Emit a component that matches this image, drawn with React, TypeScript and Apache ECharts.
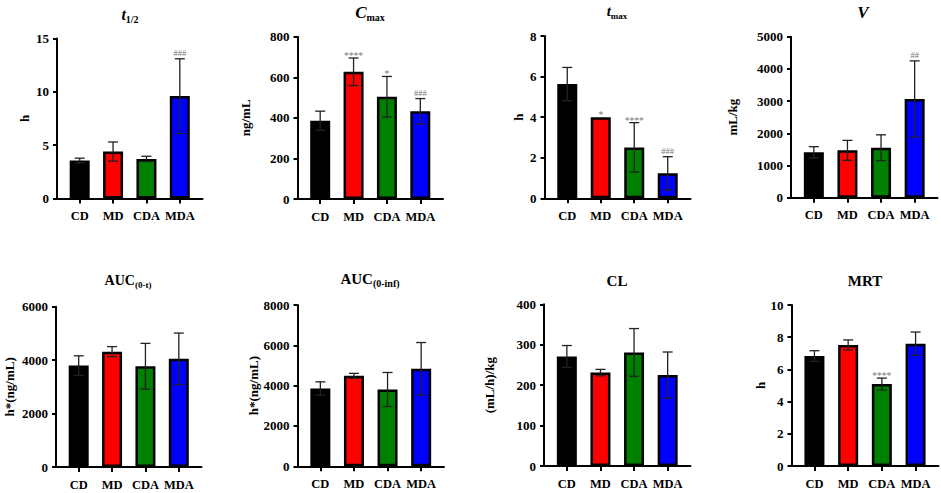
import React, { useEffect, useRef } from "react";
import * as echarts from "echarts";

const categories = ["CD", "MD", "CDA", "MDA"];
const barColors = ["#000000", "#ff0000", "#008000", "#0000ff"];

// t1/2 (h)
const t12Mean = [3.56, 4.4, 3.71, 9.6];
const t12Sd = [0.22, 0.9, 0.25, 3.5];
const t12Marks = ["", "", "", "###"];
// Cmax (ng/mL)
const cmaxMean = [386, 627, 504, 432];
const cmaxSd = [47, 68, 100, 63];
const cmaxMarks = ["", "****", "*", "###"];
// tmax (h)
const tmaxMean = [5.63, 3.99, 2.51, 1.23];
const tmaxSd = [0.82, 0, 1.22, 0.82];
const tmaxMarks = ["", "*", "****", "###"];
// V (mL/kg)
const vMean = [1408, 1470, 1553, 3064];
const vSd = [176, 310, 400, 1185];
const vMarks = ["", "", "", "##"];
// AUC(0-t)
const auctMean = [3795, 4318, 3770, 4050];
const auctSd = [367, 188, 857, 963];
const auctMarks = ["", "", "", ""];
// AUC(0-inf)
const aucinfMean = [3859, 4485, 3809, 4839];
const aucinfSd = [330, 125, 844, 1300];
const aucinfMarks = ["", "", "", ""];
// CL
const clMean = [271, 231, 281, 225];
const clSd = [27, 8, 59, 57];
const clMarks = ["", "", "", ""];
// MRT
const mrtMean = [6.83, 7.52, 5.09, 7.6];
const mrtSd = [0.33, 0.31, 0.37, 0.72];
const mrtMarks = ["", "", "****", ""];

// y axis scales
const yMaxes = [15, 800, 8, 5000, 6000, 8000, 400, 10];
const yIntervals = [5, 200, 2, 1000, 2000, 2000, 100, 2];
const yNames = ["h", "ng/mL", "h", "mL/kg", "h*(ng/mL)", "h*(ng/mL)", "(mL/h)/kg", "h"];

const FONT = '"Liberation Serif", "Times New Roman", serif';

const dataSets = [
  { mean: t12Mean, sd: t12Sd, marks: t12Marks },
  { mean: cmaxMean, sd: cmaxSd, marks: cmaxMarks },
  { mean: tmaxMean, sd: tmaxSd, marks: tmaxMarks },
  { mean: vMean, sd: vSd, marks: vMarks },
  { mean: auctMean, sd: auctSd, marks: auctMarks },
  { mean: aucinfMean, sd: aucinfSd, marks: aucinfMarks },
  { mean: clMean, sd: clSd, marks: clMarks },
  { mean: mrtMean, sd: mrtSd, marks: mrtMarks },
];

// layout (pixels): axis extents
const layouts = [
  { left: 57, right: 202.5, top: 38.5, bottom: 198.5, nameGap: 26 },
  { left: 297.5, right: 443, top: 36.7, bottom: 199, nameGap: 46 },
  { left: 544.5, right: 690.5, top: 36, bottom: 198.3, nameGap: 20 },
  { left: 791, right: 937.5, top: 36.7, bottom: 197.7, nameGap: 52 },
  { left: 56, right: 201.5, top: 306.7, bottom: 467, nameGap: 40 },
  { left: 297.5, right: 444, top: 305, bottom: 466.3, nameGap: 37 },
  { left: 544, right: 690.5, top: 304.3, bottom: 466, nameGap: 48 },
  { left: 791.5, right: 938.5, top: 305, bottom: 466, nameGap: 25 },
];

const titles = [
  { text: "{it|t}{sub|1/2}", x: 130, y: 14, main: 16, sub: 10, italic: true },
  { text: "{it|C}{sub|max}", x: 370, y: 12, main: 17, sub: 10, italic: true },
  { text: "{it|t}{sub|max}", x: 617, y: 11, main: 15, sub: 9, italic: true },
  { text: "{it|V}", x: 863, y: 12, main: 17, sub: 10, italic: true },
  { text: "{it|AUC}{sub|(0-t)}", x: 128, y: 280, main: 14, sub: 9, italic: false },
  { text: "{it|AUC}{sub|(0-inf)}", x: 370, y: 279, main: 15, sub: 10, italic: false },
  { text: "{it|CL}", x: 617, y: 281, main: 15, sub: 10, italic: false },
  { text: "{it|MRT}", x: 865, y: 281, main: 15, sub: 10, italic: false },
];

const X_MIN = -0.68;
const X_MAX = 3.68;

function buildOption() {
  const grid: any[] = [];
  const xAxis: any[] = [];
  const yAxis: any[] = [];
  const series: any[] = [];
  const axisLineStyle = { color: "#000", width: 2 };

  dataSets.forEach((ds, i) => {
    const L = layouts[i];
    grid.push({
      left: L.left,
      top: L.top,
      width: L.right - L.left,
      height: L.bottom - L.top,
      containLabel: false,
    });
    xAxis.push({
      gridIndex: i,
      type: "value",
      min: X_MIN,
      max: X_MAX,
      axisLine: { show: true, onZero: false, lineStyle: axisLineStyle },
      axisTick: {
        show: true,
        customValues: [0, 1, 2, 3],
        length: 5,
        lineStyle: { color: "#000", width: 2 },
      },
      axisLabel: {
        customValues: [0, 1, 2, 3],
        formatter: (v: number) => categories[Math.round(v)] || "",
        margin: 11,
        color: "#000",
        fontFamily: FONT,
        fontWeight: "bold",
        fontSize: 12.5,
      },
      splitLine: { show: false },
    });
    yAxis.push({
      gridIndex: i,
      type: "value",
      min: 0,
      max: yMaxes[i],
      interval: yIntervals[i],
      name: yNames[i],
      nameLocation: "middle",
      nameGap: L.nameGap,
      nameRotate: 90,
      nameTextStyle: {
        color: "#000",
        fontFamily: FONT,
        fontWeight: "bold",
        fontSize: 13,
      },
      axisLine: { show: true, onZero: false, lineStyle: axisLineStyle },
      axisTick: { show: true, length: 4, lineStyle: { color: "#000", width: 2 } },
      axisLabel: {
        margin: 8,
        color: "#000",
        fontFamily: FONT,
        fontWeight: "bold",
        fontSize: 13,
        formatter: (v: number) => String(v),
      },
      splitLine: { show: false },
    });
    series.push({
      type: "bar",
      xAxisIndex: i,
      yAxisIndex: i,
      barWidth: 20,
      data: ds.mean.map((m, k) => ({
        value: [k, m],
        itemStyle: { color: barColors[k], borderColor: "#000", borderWidth: 2.5 },
      })),
      z: 2,
    });
    const marks = ds.marks;
    series.push({
      type: "custom",
      xAxisIndex: i,
      yAxisIndex: i,
      encode: { x: 0, y: 1 },
      clip: false,
      z: 5,
      data: ds.mean.map((m, k) => [k, m, ds.sd[k]]),
      renderItem: (params: any, api: any) => {
        const x = api.value(0);
        const m = api.value(1);
        const s = api.value(2);
        const top = api.coord([x, m + s]);
        const bot = api.coord([x, m - s]);
        const half = 5;
        const children: any[] = [];
        const ls = { stroke: "#222", lineWidth: 1.3 };
        if (s > 0) {
          children.push({ type: "line", shape: { x1: top[0], y1: top[1], x2: bot[0], y2: bot[1] }, style: ls });
          children.push({ type: "line", shape: { x1: top[0] - half, y1: top[1], x2: top[0] + half, y2: top[1] }, style: ls });
          children.push({ type: "line", shape: { x1: bot[0] - half, y1: bot[1], x2: bot[0] + half, y2: bot[1] }, style: ls });
        }
        const mark = marks[params.dataIndex];
        if (mark) {
          const isStar = mark[0] === "*";
          children.push({
            type: "text",
            style: {
              text: mark,
              x: top[0],
              y: top[1] - (isStar ? 2 : 6),
              align: "center",
              verticalAlign: "middle",
              fill: "#777",
              fontFamily: FONT,
              fontSize: isStar ? 9.5 : 8.5,
            },
          });
        }
        return { type: "group", children };
      },
    });
  });

  const graphic = titles.map((t) => ({
    type: "text",
    x: t.x,
    y: t.y,
    style: {
      text: t.text,
      align: "center",
      verticalAlign: "middle",
      fill: "#000",
      rich: {
        it: {
          fontFamily: FONT,
          fontWeight: "bold",
          fontStyle: t.italic ? "italic" : "normal",
          fontSize: t.main,
          lineHeight: t.main + 4,
          verticalAlign: "middle",
        },
        sub: {
          fontFamily: FONT,
          fontWeight: "bold",
          fontSize: t.sub,
          lineHeight: t.main + 4,
          verticalAlign: "bottom",
        },
      },
    },
  }));

  return {
    animation: false,
    backgroundColor: "#ffffff",
    grid,
    xAxis,
    yAxis,
    series,
    graphic,
  };
}

export default function App() {
  const ref = useRef<HTMLDivElement>(null);
  useEffect(() => {
    if (!ref.current) return;
    const chart = echarts.init(ref.current, undefined, { renderer: "svg" });
    chart.setOption(buildOption() as any);
    return () => {
      chart.dispose();
    };
  }, []);
  return (
    <div
      ref={ref}
      style={{ position: "absolute", left: 0, top: 0, width: 941, height: 493, background: "#fff" }}
    />
  );
}
